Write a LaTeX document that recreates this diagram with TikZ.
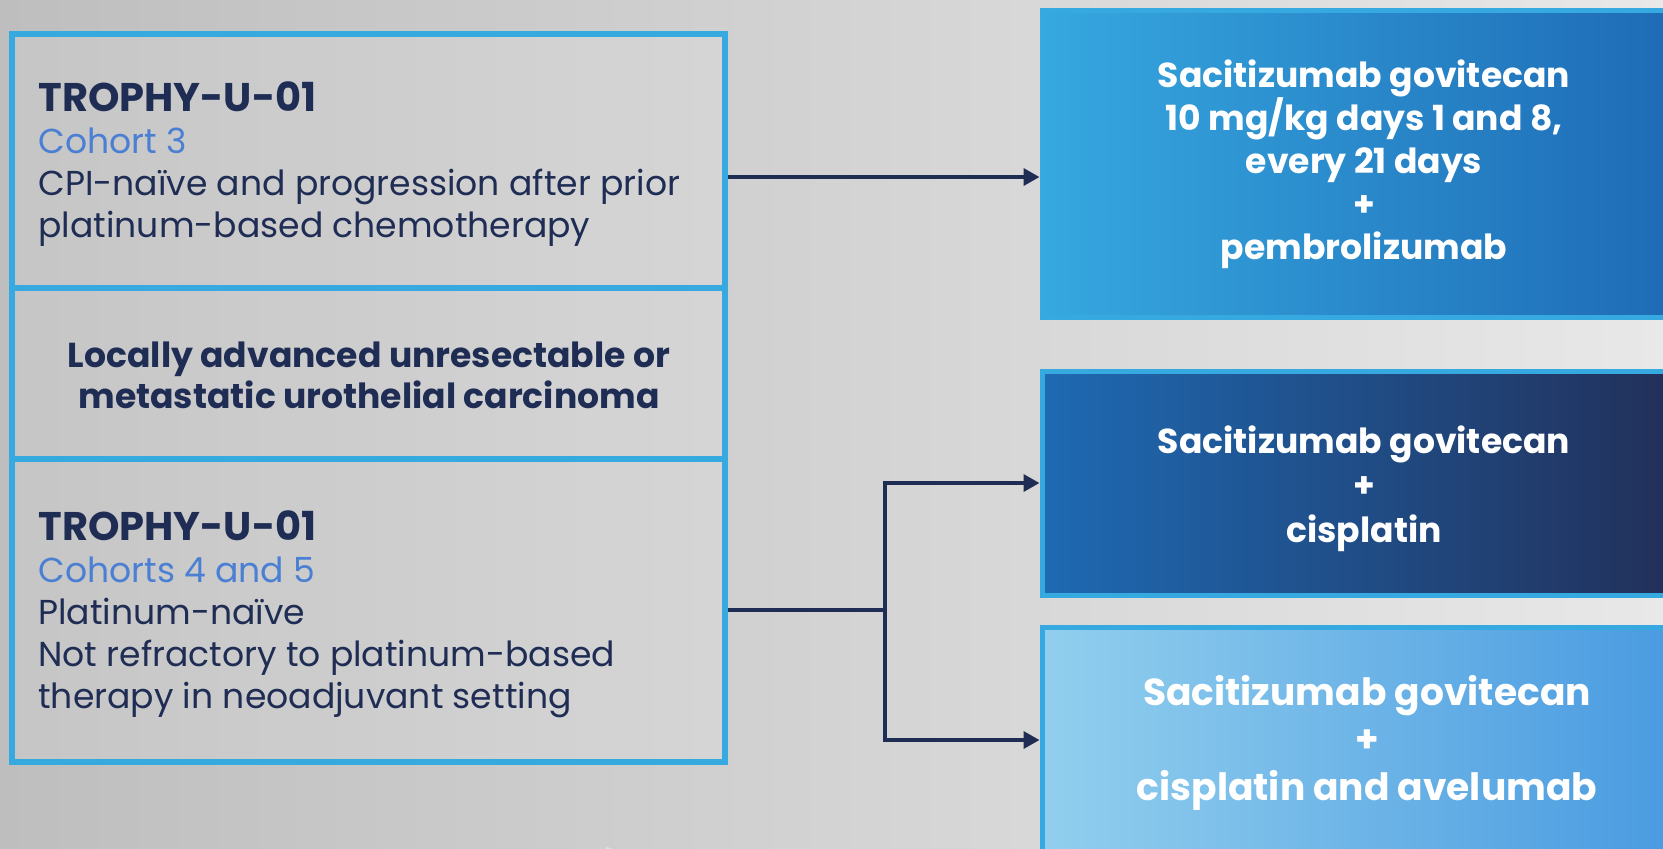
\documentclass[tikz,border=0pt]{standalone}
\usepackage{fontspec}
\setmainfont{Poppins}
\usetikzlibrary{arrows.meta,calc}
\definecolor{navy}{HTML}{1F2D55}
\definecolor{cohort}{HTML}{4A7FD4}
\definecolor{frame}{HTML}{36A9E1}
\definecolor{bgL}{HTML}{BEBEBE}
\definecolor{bgM}{HTML}{DCDCDC}
\definecolor{bgR}{HTML}{E8E8E8}
\definecolor{aL}{HTML}{36A8E0}
\definecolor{aR}{HTML}{1D69B4}
\definecolor{bL}{HTML}{1E6AB3}
\definecolor{bR}{HTML}{222E57}
\definecolor{cL}{HTML}{92CFEE}
\definecolor{cR}{HTML}{4799E0}
\tikzset{
  panel/.style={draw=frame, line width=3pt, fill=white, fill opacity=0.12,
    text opacity=1, rectangle, inner sep=0pt},
  armbox/.style={draw=frame, line width=2.5pt, rectangle, inner sep=0pt},
  armtext/.style={text=white, align=center, inner sep=0pt,
    font=\fontsize{17.3pt}{21.5pt}\selectfont\bfseries},
  bodytext/.style={text=navy, align=left, inner sep=0pt,
    font=\fontsize{17.3pt}{21pt}\selectfont},
  flow/.style={draw=navy, line width=1.8pt,
    -{Triangle[length=8pt,width=8.5pt]}},
  link/.style={draw=navy, line width=1.8pt}
}
\begin{document}
\begin{tikzpicture}[x=0.5pt,y=-0.5pt]
\useasboundingbox (0,0) rectangle (1663,848);
\clip (0,0) rectangle (1663,848);
% backdrop
\shade[left color=bgL, middle color=bgM, right color=bgR] (0,0) rectangle (1663,848);
\draw[white, opacity=0.35, line width=4pt] (610,848) arc[start angle=200, end angle=165, radius=1400];

% left column: study cohorts and population
\node[panel, minimum width=356.5pt, minimum height=127.25pt] (coh3) at (368.5,160.75) {};
\node[panel, minimum width=356.5pt, minimum height=85.5pt] (pop) at (368.5,373.5) {};
\node[panel, minimum width=356.5pt, minimum height=151.5pt] (coh45) at (368.5,610.5) {};

% multi-line labels are anchored on the baseline of their last line
\node[bodytext, anchor=base west] (t3) at (38,237)
  {{\fontsize{20pt}{21pt}\selectfont\bfseries TROPHY-U-01}\\
   {\color{cohort}Cohort 3}\\
   CPI-naïve and progression after prior\\
   platinum-based chemotherapy};
\node[bodytext, align=center, anchor=base, font=\fontsize{17.3pt}{20.5pt}\selectfont\bfseries] (tp) at (369,408)
  {Locally advanced unresectable or\\metastatic urothelial carcinoma};
\node[bodytext, anchor=base west] (t45) at (38,708)
  {{\fontsize{20pt}{21pt}\selectfont\bfseries TROPHY-U-01}\\
   {\color{cohort}Cohorts 4 and 5}\\
   Platinum-naïve\\
   Not refractory to platinum-based\\
   therapy in neoadjuvant setting};

% right column: treatment arms
\node[armbox, left color=aL, right color=aR, minimum width=325pt, minimum height=153.5pt] (armA) at (1367,163.5) {};
\node[armbox, left color=bL, right color=bR, minimum width=325pt, minimum height=112pt] (armB) at (1367,483) {};
\node[armbox, left color=cL, right color=cR, minimum width=325pt, minimum height=120pt] (armC) at (1367,747) {};

\node[armtext, anchor=base] (ta) at (1364,259)
  {Sacitizumab govitecan\\10 mg/kg days 1 and 8,\\every 21 days\\+\\pembrolizumab};
\node[armtext, anchor=base, font=\fontsize{17.3pt}{22.2pt}\selectfont\bfseries] (tb) at (1364,542)
  {Sacitizumab govitecan\\+\\cisplatin};
\node[armtext, anchor=base, font=\fontsize{18.8pt}{23.75pt}\selectfont\bfseries] (tc) at (1367,800)
  {Sacitizumab govitecan\\+\\cisplatin and avelumab};

% connectors
\coordinate (s1) at (coh3.east |- 0,177);
\draw[flow] (s1) -- (s1 -| armA.west);
\coordinate (s2) at (coh45.east |- 0,610);
\coordinate (fork) at (885,610);
\draw[link] (s2) -- (fork);
\draw[flow] (fork) |- (armB.west);
\draw[flow] (fork) |- (armC.west |- 0,740);
\end{tikzpicture}
\end{document}
